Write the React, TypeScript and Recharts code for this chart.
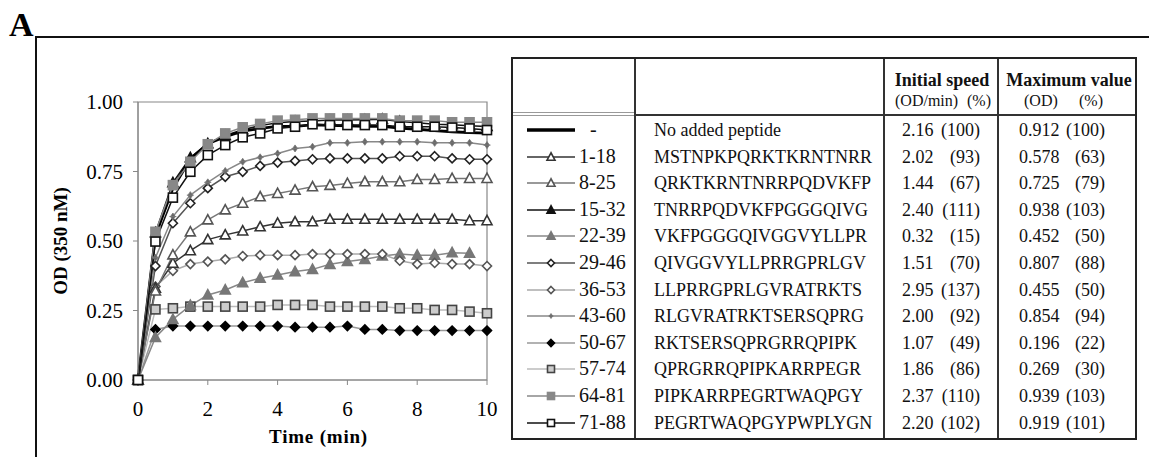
import React from 'react'
import { LineChart, Line, XAxis, YAxis, ReferenceArea } from 'recharts'

const SERIF = '"Liberation Serif", "Times New Roman", serif'

// time points (min)
const times = [0, 0.5, 1, 1.5, 2, 2.5, 3, 3.5, 4, 4.5, 5, 5.5, 6, 6.5, 7, 7.5, 8, 8.5, 9, 9.5, 10]

// OD (350 nM) per peptide
const noPeptide = [0, 0.52, 0.69, 0.795, 0.85, 0.875, 0.895, 0.905, 0.912, 0.912, 0.918, 0.916, 0.914, 0.912, 0.912, 0.906, 0.902, 0.897, 0.893, 0.89, 0.888]
const p1_18 = [0, 0.33, 0.42, 0.465, 0.505, 0.522, 0.536, 0.551, 0.564, 0.569, 0.569, 0.578, 0.578, 0.578, 0.578, 0.578, 0.578, 0.578, 0.578, 0.573, 0.573]
const p8_25 = [0, 0.32, 0.45, 0.533, 0.576, 0.612, 0.636, 0.659, 0.671, 0.683, 0.695, 0.7, 0.707, 0.713, 0.713, 0.713, 0.721, 0.721, 0.725, 0.725, 0.725]
const p15_32 = [0, 0.53, 0.71, 0.8, 0.85, 0.88, 0.9, 0.915, 0.925, 0.93, 0.932, 0.935, 0.935, 0.936, 0.938, 0.93, 0.925, 0.92, 0.918, 0.915, 0.912]
const p22_39 = [0, 0.153, 0.218, 0.268, 0.306, 0.324, 0.35, 0.366, 0.378, 0.39, 0.398, 0.416, 0.426, 0.434, 0.446, 0.453, 0.449, 0.449, 0.458, 0.456, null]
const p29_46 = [0, 0.41, 0.564, 0.636, 0.69, 0.731, 0.749, 0.77, 0.782, 0.788, 0.794, 0.797, 0.797, 0.797, 0.797, 0.805, 0.805, 0.805, 0.797, 0.794, 0.794]
const p36_53 = [0, 0.336, 0.393, 0.417, 0.426, 0.434, 0.446, 0.449, 0.449, 0.449, 0.453, 0.453, 0.453, 0.453, 0.453, 0.429, 0.417, 0.421, 0.417, 0.417, 0.41]
const p43_60 = [0, 0.44, 0.588, 0.665, 0.711, 0.752, 0.785, 0.801, 0.815, 0.833, 0.839, 0.853, 0.853, 0.857, 0.857, 0.857, 0.857, 0.853, 0.853, 0.853, 0.845]
const p50_67 = [0, 0.182, 0.194, 0.194, 0.194, 0.194, 0.194, 0.194, 0.194, 0.19, 0.19, 0.19, 0.194, 0.182, 0.182, 0.178, 0.178, 0.178, 0.178, 0.178, 0.178]
const p57_74 = [0, 0.254, 0.258, 0.264, 0.264, 0.264, 0.264, 0.264, 0.27, 0.27, 0.27, 0.264, 0.264, 0.264, 0.264, 0.258, 0.258, 0.252, 0.252, 0.246, 0.24]
const p64_81 = [0, 0.533, 0.701, 0.785, 0.848, 0.887, 0.909, 0.921, 0.933, 0.936, 0.941, 0.941, 0.941, 0.941, 0.941, 0.933, 0.933, 0.933, 0.927, 0.927, 0.927]
const p71_88 = [0, 0.498, 0.656, 0.749, 0.809, 0.845, 0.873, 0.887, 0.905, 0.911, 0.92, 0.917, 0.917, 0.917, 0.917, 0.911, 0.911, 0.911, 0.908, 0.905, 0.899]

// table columns
const peptides = ['-', '1-18', '8-25', '15-32', '22-39', '29-46', '36-53', '43-60', '50-67', '57-74', '64-81', '71-88']
const sequences = [
  'No added peptide', 'MSTNPKPQRKTKRNTNRR', 'QRKTKRNTNRRPQDVKFP', 'TNRRPQDVKFPGGGQIVG',
  'VKFPGGGQIVGGVYLLPR', 'QIVGGVYLLPRRGPRLGV', 'LLPRRGPRLGVRATRKTS', 'RLGVRATRKTSERSQPRG',
  'RKTSERSQPRGRRQPIPK', 'QPRGRRQPIPKARRPEGR', 'PIPKARRPEGRTWAQPGY', 'PEGRTWAQPGYPWPLYGN',
]
const initialSpeed = ['2.16', '2.02', '1.44', '2.40', '0.32', '1.51', '2.95', '2.00', '1.07', '1.86', '2.37', '2.20']
const speedPct = [100, 93, 67, 111, 15, 70, 137, 92, 49, 86, 110, 102]
const maxOd = ['0.912', '0.578', '0.725', '0.938', '0.452', '0.807', '0.455', '0.854', '0.196', '0.269', '0.939', '0.919']
const maxPct = [100, 63, 79, 103, 50, 88, 50, 94, 22, 30, 103, 101]

type Shape = 'none' | 'square' | 'triangle' | 'diamond' | 'star'
interface Style { key: string; values: (number | null)[]; stroke: string; width: number; shape: Shape; fill: string; mstroke: string; size: number }

const styles: Record<string, Style> = {
  '-': { key: 'np', values: noPeptide, stroke: '#000', width: 2.8, shape: 'none', fill: '', mstroke: '', size: 0 },
  '1-18': { key: 'a', values: p1_18, stroke: '#333', width: 1.5, shape: 'triangle', fill: '#fff', mstroke: '#333', size: 10 },
  '8-25': { key: 'b', values: p8_25, stroke: '#777', width: 1.5, shape: 'triangle', fill: '#fff', mstroke: '#555', size: 10 },
  '15-32': { key: 'c', values: p15_32, stroke: '#111', width: 1.5, shape: 'triangle', fill: '#111', mstroke: '#111', size: 10 },
  '22-39': { key: 'd', values: p22_39, stroke: '#888', width: 1.5, shape: 'triangle', fill: '#777', mstroke: '#777', size: 10 },
  '29-46': { key: 'e', values: p29_46, stroke: '#555', width: 1.5, shape: 'diamond', fill: '#fff', mstroke: '#222', size: 9 },
  '36-53': { key: 'f', values: p36_53, stroke: '#aaa', width: 1.5, shape: 'diamond', fill: '#fff', mstroke: '#555', size: 9 },
  '43-60': { key: 'g', values: p43_60, stroke: '#888', width: 1.5, shape: 'star', fill: '#666', mstroke: '#777', size: 7 },
  '50-67': { key: 'h', values: p50_67, stroke: '#999', width: 1.5, shape: 'diamond', fill: '#000', mstroke: '#000', size: 9 },
  '57-74': { key: 'i', values: p57_74, stroke: '#bbb', width: 1.5, shape: 'square', fill: '#ccc', mstroke: '#444', size: 9 },
  '64-81': { key: 'j', values: p64_81, stroke: '#888', width: 1.5, shape: 'square', fill: '#888', mstroke: '#888', size: 9 },
  '71-88': { key: 'k', values: p71_88, stroke: '#111', width: 1.5, shape: 'square', fill: '#fff', mstroke: '#111', size: 9 },
}

// draw order (bottom first)
const drawOrder = ['50-67', '57-74', '22-39', '36-53', '1-18', '8-25', '29-46', '43-60', '15-32', '-', '64-81', '71-88']

const chartData = times.map((t, i) => {
  const row: Record<string, number | null> = { t }
  peptides.forEach(p => { row[styles[p].key] = styles[p].values[i] })
  return row
})

function Marker({ cx, cy, shape, fill, stroke, size }: any) {
  if (cx == null || cy == null || Number.isNaN(cy)) return <g />
  const h = size / 2
  if (shape === 'square')
    return <rect x={cx - h} y={cy - h} width={size} height={size} fill={fill} stroke={stroke} strokeWidth={1.6} />
  if (shape === 'triangle')
    return <polygon points={`${cx},${cy - h * 1.05} ${cx - h},${cy + h * 0.8} ${cx + h},${cy + h * 0.8}`} fill={fill} stroke={stroke} strokeWidth={1.6} />
  if (shape === 'diamond')
    return <polygon points={`${cx},${cy - h} ${cx + h},${cy} ${cx},${cy + h} ${cx - h},${cy}`} fill={fill} stroke={stroke} strokeWidth={1.6} />
  if (shape === 'star')
    return (
      <g>
        <polygon points={`${cx},${cy - h} ${cx + h * 0.7},${cy} ${cx},${cy + h} ${cx - h * 0.7},${cy}`} fill={fill} stroke={stroke} strokeWidth={0.8} />
        <line x1={cx - h} y1={cy} x2={cx + h} y2={cy} stroke={stroke} strokeWidth={1} />
      </g>
    )
  return <g />
}

function YLabel({ viewBox }: any) {
  const x = viewBox.x + 60
  const y = viewBox.y + viewBox.height / 2
  return (
    <text x={x} y={y} transform={`rotate(-90, ${x}, ${y})`} textAnchor="middle" dominantBaseline="central"
      fontFamily={SERIF} fontWeight="bold" fontSize={19} fill="#000">OD (350 nM)</text>
  )
}

function XLabel({ viewBox }: any) {
  const x = viewBox.x + viewBox.width / 2 + 6
  const y = viewBox.y + 63
  return (
    <text x={x} y={y} textAnchor="middle" fontFamily={SERIF} fontWeight="bold" fontSize={19} letterSpacing={0.8} fill="#000">Time (min)</text>
  )
}

const ROW0 = 128
const ROWH = 26.6
const TL = 511
const TT = 57

function LegendGlyph({ name }: { name: string }) {
  const s = styles[name]
  return (
    <svg width={50} height={16} style={{ position: 'absolute', left: 525 - TL, top: -8 }}>
      <line x1={0} y1={8} x2={48} y2={8} stroke={s.stroke} strokeWidth={name === '-' ? 3.5 : 1.3} />
      {s.shape !== 'none' && <Marker cx={24} cy={8} shape={s.shape} fill={s.fill} stroke={s.mstroke} size={s.size - 2} />}
    </svg>
  )
}

function DataTable() {
  const vline = (x: number) => (
    <div style={{ position: 'absolute', left: x - TL - 2, top: 0, width: 1.5, height: '100%', background: '#333' }} />
  )
  const txt: React.CSSProperties = { position: 'absolute', fontFamily: SERIF, fontSize: 18, color: '#111', whiteSpace: 'nowrap', lineHeight: '20px' }
  return (
    <div style={{ position: 'absolute', left: TL, top: TT, width: 626, height: 383, border: '2.5px solid #222', boxSizing: 'border-box' }}>
      {vline(634)}
      {vline(883)}
      {vline(997)}
      {/* header separators */}
      <div style={{ position: 'absolute', left: 0, top: 110 - TT, width: 634 - TL - 2, height: 1, background: '#999' }} />
      <div style={{ position: 'absolute', left: 0, top: 113 - TT, width: 634 - TL - 2, height: 1, background: '#999' }} />
      <div style={{ position: 'absolute', left: 634 - TL - 2, top: 112 - TT, right: 0, height: 1.5, background: '#333' }} />
      {/* header text */}
      <div style={{ ...txt, left: 883 - TL, width: 997 - 883, top: 68 - TT, textAlign: 'center', fontWeight: 'bold' }}>Initial speed</div>
      <div style={{ ...txt, fontSize: 16, left: 893 - TL, top: 89 - TT }}>(OD/min)</div>
      <div style={{ ...txt, fontSize: 16, left: 965 - TL, top: 89 - TT }}>(%)</div>
      <div style={{ ...txt, left: 997 - TL, width: 1137 - 997, top: 68 - TT, textAlign: 'center', fontWeight: 'bold' }}>Maximum value</div>
      <div style={{ ...txt, fontSize: 16, left: 1022 - TL, top: 89 - TT }}>(OD)</div>
      <div style={{ ...txt, fontSize: 16, left: 1077 - TL, top: 89 - TT }}>(%)</div>
      {peptides.map((p, i) => {
        const cy = ROW0 + i * ROWH - TT
        return (
          <div key={p} style={{ position: 'absolute', left: 0, top: cy, width: '100%', height: 0 }}>
            <LegendGlyph name={p} />
            <div style={{ ...txt, fontSize: 20, top: -11, left: (p === '-' ? 588 : 577) - TL }}>{p}</div>
            <div style={{ ...txt, top: -10, left: 652 - TL }}>{sequences[i]}</div>
            <div style={{ ...txt, top: -10, left: 900 - TL }}>{initialSpeed[i]}</div>
            <div style={{ ...txt, top: -10, right: 626 - (982 - TL) }}>({speedPct[i]})</div>
            <div style={{ ...txt, top: -10, left: 1017 - TL }}>{maxOd[i]}</div>
            <div style={{ ...txt, top: -10, right: 626 - (1107 - TL) }}>({maxPct[i]})</div>
          </div>
        )
      })}
    </div>
  )
}

export default function App() {
  return (
    <div style={{ position: 'fixed', left: 0, top: 0, width: 1149, height: 457, background: '#fff', overflow: 'hidden' }}>
      <div style={{ position: 'absolute', left: 9, top: 7, fontFamily: SERIF, fontWeight: 'bold', fontSize: 34, lineHeight: '36px' }}>A</div>
      <div style={{ position: 'absolute', left: 35, top: 36, width: 1114, height: 2, background: '#111' }} />
      <div style={{ position: 'absolute', left: 35, top: 36, width: 2, height: 421, background: '#111' }} />
      <div style={{ position: 'absolute', left: 0, top: 0 }}>
        <LineChart width={510} height={457} data={chartData} margin={{ top: 102, right: 23, left: 0, bottom: 0 }}>
          <XAxis dataKey="t" type="number" domain={[0, 10]} ticks={[0, 2, 4, 6, 8, 10]} height={77}
            axisLine={{ stroke: '#888' }} tickLine={{ stroke: '#888' }} tickSize={5} tickMargin={16}
            tick={{ fill: '#000', fontSize: 21, fontFamily: SERIF }} label={<XLabel />} />
          <YAxis type="number" domain={[0, 1]} ticks={[0, 0.25, 0.5, 0.75, 1]} width={138}
            tickFormatter={(v: number) => v.toFixed(2)}
            axisLine={{ stroke: '#888' }} tickLine={{ stroke: '#888' }} tickSize={5} tickMargin={10}
            tick={{ fill: '#000', fontSize: 21, fontFamily: SERIF }} label={<YLabel />} />
          <ReferenceArea x1={0} x2={10} y1={0} y2={1} fill="none" stroke="#888" strokeWidth={1.2} />
          {drawOrder.map(p => {
            const s = styles[p]
            return (
              <Line key={p} dataKey={s.key} name={p} stroke={s.stroke} strokeWidth={s.width}
                isAnimationActive={false} activeDot={false}
                dot={s.shape === 'none' ? false : (props: any) => (
                  <Marker key={`${s.key}-${props.index}`} cx={props.cx} cy={props.cy}
                    shape={s.shape} fill={s.fill} stroke={s.mstroke} size={s.size} />
                )} />
            )
          })}
        </LineChart>
      </div>
      <DataTable />
    </div>
  )
}
